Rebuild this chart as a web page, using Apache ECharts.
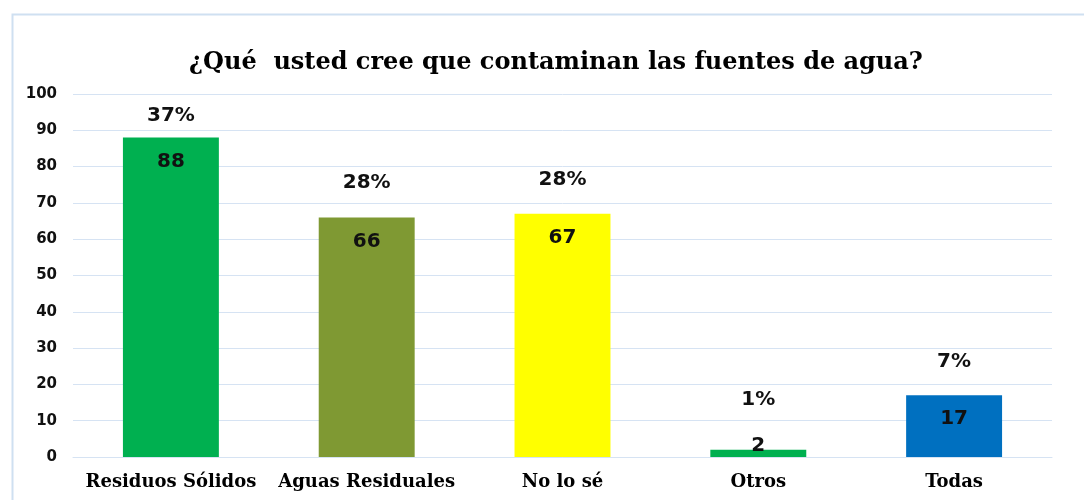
<!DOCTYPE html>
<html>
<head>
<meta charset="utf-8">
<script src="https://cdn.jsdelivr.net/npm/echarts@6/dist/echarts.min.js"></script>
<style>
  html, body { margin: 0; padding: 0; background: #fff; }
  #chart { width: 1084px; height: 500px; }
</style>
</head>
<body>
<div id="chart"></div>
<script>
// datos
var categories = ["Residuos Sólidos", "Aguas Residuales", "No lo sé", "Otros", "Todas"];
var counts = [88, 66, 67, 2, 17];
var percents = ["37%", "28%", "28%", "1%", "7%"];
var barColors = ["#00b050", "#7f9933", "#ffff00", "#00b050", "#0070c0"];
var yTicks = [0, 10, 20, 30, 40, 50, 60, 70, 80, 90, 100];

// separación del porcentaje sobre la barra (estilo)
var pctGap = [12, 25, 24, 40, 23];

var myChart = echarts.init(document.getElementById("chart"));

var labelFont = {
  fontFamily: "DejaVu Sans",
  fontWeight: "bold",
  fontSize: 20,
  color: "#111"
};

var countData = counts.map(function (v, i) {
  var item = {
    value: v,
    itemStyle: { color: barColors[i] }
  };
  if (v < 5) {
    item.label = { position: "top", distance: -6 };
  }
  return item;
});

var pctData = counts.map(function (v, i) {
  return {
    value: v,
    label: { distance: pctGap[i] }
  };
});

var option = {
  animation: false,
  title: {
    text: "¿Qué  usted cree que contaminan las fuentes de agua?",
    left: 184,
    top: 46,
    textStyle: {
      fontFamily: "DejaVu Serif",
      fontWeight: "bold",
      fontSize: 24,
      color: "#000"
    }
  },
  graphic: [
    {
      type: "rect",
      left: 10,
      top: 12,
      shape: { width: 1100, height: 520 },
      style: { fill: "none", stroke: "#cfe0f1", lineWidth: 2 },
      silent: true
    }
  ],
  grid: {
    left: 73,
    right: 32,
    top: 94,
    bottom: 43
  },
  xAxis: {
    type: "category",
    data: categories,
    axisLine: { show: true, lineStyle: { color: "#d6e3f3", width: 1 } },
    axisTick: { show: false },
    axisLabel: {
      margin: 16,
      fontFamily: "DejaVu Serif",
      fontWeight: "bold",
      fontSize: 18,
      color: "#000",
      interval: 0
    }
  },
  yAxis: {
    type: "value",
    min: yTicks[0],
    max: yTicks[yTicks.length - 1],
    interval: 10,
    axisLine: { show: false },
    axisTick: { show: false },
    splitLine: { lineStyle: { color: "#d6e3f3", width: 1 } },
    axisLabel: {
      margin: 16,
      fontFamily: "DejaVu Sans",
      fontWeight: "bold",
      fontSize: 15,
      color: "#111"
    }
  },
  series: [
    {
      name: "Cantidad",
      type: "bar",
      barWidth: "49%",
      data: countData,
      label: Object.assign({
        show: true,
        position: "insideTop",
        distance: 14
      }, labelFont)
    },
    {
      name: "Porcentaje",
      type: "bar",
      barWidth: "49%",
      barGap: "-100%",
      itemStyle: { color: "transparent" },
      data: pctData,
      silent: true,
      label: Object.assign({
        show: true,
        position: "top",
        formatter: function (p) {
          return percents[p.dataIndex];
        }
      }, labelFont)
    }
  ]
};

option && myChart.setOption(option);
</script>
</body>
</html>
